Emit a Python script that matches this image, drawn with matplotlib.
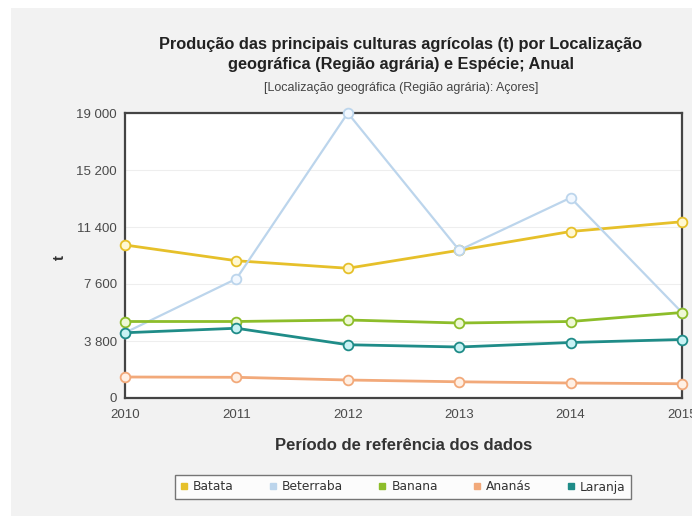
import matplotlib
matplotlib.use("Agg")
import matplotlib.pyplot as plt
from matplotlib.ticker import FuncFormatter
from matplotlib.lines import Line2D

years = [2010, 2011, 2012, 2013, 2014, 2015]
batata = [10200, 9150, 8650, 9850, 11100, 11750]
beterraba = [4350, 7950, 19000, 9850, 13350, 5700]
banana = [5100, 5100, 5200, 5000, 5100, 5700]
ananas = [1400, 1380, 1200, 1080, 1000, 950]
laranja = [4350, 4650, 3550, 3400, 3700, 3900]

series_names = ["Batata", "Beterraba", "Banana", "Ananás", "Laranja"]
series_values = [batata, beterraba, banana, ananas, laranja]
line_colors = ["#e6c02a", "#bcd5ec", "#8dbd2a", "#f2a97a", "#1f8c88"]
face_colors = ["#fff8d2", "#f2f8ff", "#eef8d6", "#fff0e4", "#c8f2f4"]
widths = [2.0, 1.6, 2.0, 2.0, 2.0]

yticks = [0, 3800, 7600, 11400, 15200, 19000]

plt.rcParams['font.family'] = ['Liberation Sans', 'DejaVu Sans']

fig = plt.figure(figsize=(6.92, 5.16), dpi=100)
fig.patch.set_facecolor("white")
# gray panel
fig.patches.append(plt.Rectangle((11/692, 0), 1 - 11/692, 1 - 8/516,
                                 transform=fig.transFigure, facecolor="#f2f2f2",
                                 edgecolor="none", zorder=-10))

ax = fig.add_axes([125/692, 1 - 398/516, 557/692, 285/516])
ax.set_facecolor("white")

for name, vals, lc, fc, lw in zip(series_names, series_values, line_colors, face_colors, widths):
    ax.plot(years, vals, color=lc, lw=lw, marker="o", markersize=7,
            markerfacecolor=fc, markeredgecolor=lc, markeredgewidth=1.3,
            clip_on=False, zorder=3, label=name)

ax.set_xlim(2010, 2015)
ax.set_ylim(0, 19000)
ax.set_xticks(years)
ax.set_yticks(yticks)
ax.yaxis.set_major_formatter(FuncFormatter(lambda v, p: f"{int(v):,}".replace(",", " ")))
ax.tick_params(axis="both", length=0, labelsize=9.5, colors="#4a4a4a", pad=6)
ax.tick_params(axis="x", pad=8)
ax.grid(axis="y", color="#eeeeee", lw=0.8)
ax.set_axisbelow(True)
for s in ax.spines.values():
    s.set_color("#444444")
    s.set_linewidth(1.6)
    s.set_zorder(2)

ax.set_xlabel("Período de referência dos dados", fontsize=12, fontweight="bold",
              color="#333333", labelpad=12)
ax.yaxis.set_label_coords(60/692, 1 - 257/516, transform=fig.transFigure)
ax.set_ylabel("t", fontsize=11, fontweight="bold", color="#333333", rotation=90,
              va="center", ha="center")

fig.text(401/692, 1 - 45/516, "Produção das principais culturas agrícolas (t) por Localização",
         ha="center", va="center", fontsize=11.8, fontweight="bold", color="#222222")
fig.text(401/692, 1 - 64/516, "geográfica (Região agrária) e Espécie; Anual",
         ha="center", va="center", fontsize=11.8, fontweight="bold", color="#222222")
fig.text(401/692, 1 - 88/516, "[Localização geográfica (Região agrária): Açores]",
         ha="center", va="center", fontsize=9, color="#444444")

handles = [Line2D([], [], ls="none", marker="s", markersize=4.5, color=c) for c in line_colors]
leg = fig.legend(handles, series_names, loc="center", bbox_to_anchor=(403/692, 1 - 487/516),
                 ncol=5, frameon=True, handlelength=0.6, handletextpad=0.45,
                 columnspacing=2.9, borderpad=0.45, fancybox=False,
                 prop={'family': ['DejaVu Sans'], 'size': 8.8})
leg.get_frame().set_edgecolor("#555555")
leg.get_frame().set_linewidth(1.0)
for t in leg.get_texts():
    t.set_color("#333333")

fig.savefig("out.png", dpi=100, facecolor=fig.get_facecolor())
